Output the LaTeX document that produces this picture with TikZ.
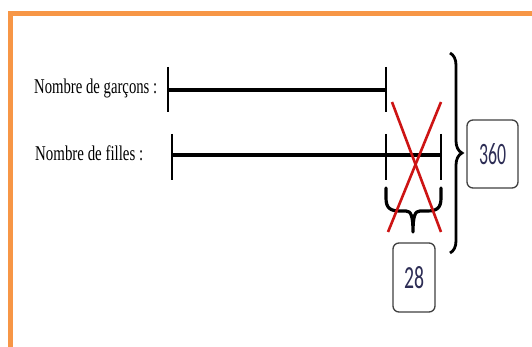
\documentclass[tikz,border=0pt]{standalone}
\usepackage{graphicx,xcolor}
\usepackage{fontspec}
\setmainfont{Liberation Serif}
\newfontfamily\numfont{Carlito}
\usetikzlibrary{decorations.pathreplacing}
\definecolor{frameorange}{RGB}{247,150,70}
\definecolor{crossred}{RGB}{205,20,20}
\definecolor{numblue}{RGB}{45,45,85}

\begin{document}
\begin{tikzpicture}[x=1pt,y=-1pt,
  every node/.style={font=\fontsize{21}{24}\selectfont},
  bar/.style={line width=3.5pt},
  tick/.style={line width=2.6pt},
  cross/.style={crossred,line width=2.6pt},
  numbox/.style={draw=black!75,line width=1.3pt,rounded corners=6pt,inner sep=0pt}]
\useasboundingbox (0,0) rectangle (532,347);
\fill[white] (0,0) rectangle (532,347);
\draw[frameorange,line width=5pt] (10,347)--(10,13.5)--(532,13.5);
% labels
\node[anchor=base west,inner sep=0pt] (garcons) at (34,94) {\resizebox{123pt}{\height}{Nombre de garçons :}};
\node[anchor=base west,inner sep=0pt] (filles) at (35,161) {\resizebox{108pt}{\height}{Nombre de filles :}};
% boys
\coordinate (g0) at (168,90);
\coordinate (g1) at (386,90);
\draw[bar] (g0)--(g1);
\draw[tick] (168,67)--(168,112);
\draw[tick] (386,67)--(386,112);
% girls
\coordinate (f0) at (172,155);
\coordinate (f1) at (441,155);
\draw[bar] (f0)--(f1);
\draw[tick] (172,134)--(172,180);
\draw[tick] (386,134)--(386,180);
\draw[tick] (441,134)--(441,180);
% small brace under the difference
\draw[line width=3.2pt,line cap=round,line join=round] (386,188)--(386,198) .. controls (386,208) and (390,211) .. (400,211)--(406,211) .. controls (411,211) and (413,216) .. (413,232)
  .. controls (413,216) and (415,211) .. (420,211)--(427,211) .. controls (437,211) and (441,208) .. (441,198)--(441,188);
% total brace
\draw[line width=2.8pt,decorate,decoration={brace,amplitude=12pt}] (450,53)--(450,253);
\node[numbox,minimum width=51pt,minimum height=68pt] (total) at (492.5,154) {\resizebox{27pt}{21pt}{\color{numblue}\numfont 360}};
\node[numbox,minimum width=42pt,minimum height=69pt] (diff) at (414,277.5) {\resizebox{20pt}{22pt}{\color{numblue}\numfont 28}};
% cross
\draw[cross] (392,102)--(441,232);
\draw[cross] (441,102)--(388,232);
\end{tikzpicture}
\end{document}
